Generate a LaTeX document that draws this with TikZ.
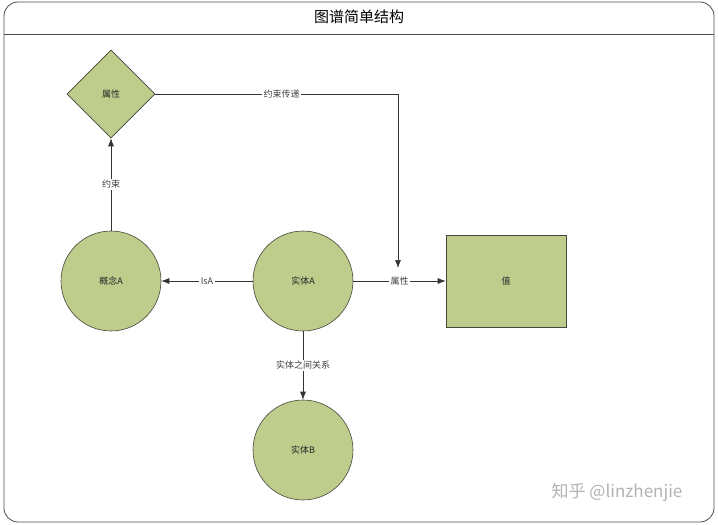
\documentclass[tikz,border=0pt]{standalone}
\usepackage{fontspec}
\setmainfont{Liberation Sans}
\newfontfamily\cjk{Noto Sans CJK SC}
\usetikzlibrary{shapes.geometric,arrows.meta}
\definecolor{nodefill}{RGB}{190,204,140}
\definecolor{nodeline}{RGB}{70,70,60}
\tikzset{
  shapebase/.style={draw=nodeline, line width=0.6pt, fill=nodefill, font=\cjk\fontsize{9}{11}\selectfont, text=black!85},
  circnode/.style={shapebase, circle, minimum size=100pt, inner sep=0pt},
  diamnode/.style={shapebase, diamond, aspect=1, minimum size=88pt, inner sep=0pt},
  rectnode/.style={shapebase, rectangle, minimum width=120pt, minimum height=92pt, inner sep=0pt},
  arr/.style={draw=black!80, line width=0.7pt, -{Latex[length=8pt,width=6pt]}},
  lbl/.style={fill=white, inner sep=1.5pt, font=\cjk\fontsize{9}{11}\selectfont, text=black!75}
}
\begin{document}
\begin{tikzpicture}[x=1pt,y=-1pt]
\useasboundingbox (0,0) rectangle (718,525);
\draw[rounded corners=14pt, draw=black!70, line width=0.8pt] (4,2) rectangle (714,522);
\draw[draw=black!70, line width=0.8pt] (4,34) -- (714,34);
\node (title) at (359,17) {\cjk\fontsize{15}{17}\selectfont 图谱简单结构};

\node[diamnode] (attr) at (111,94) {属性};
\node[circnode] (conceptA) at (111,281) {概念A};
\node[circnode] (entA) at (303,281) {实体A};
\node[circnode] (entB) at (303,450) {实体B};
\node[rectnode] (val) at (506,281) {值};

\coordinate (bend) at (398,94);
\coordinate (drop) at (398,268);

\draw[arr] (conceptA) -- node[lbl]{约束} (attr);
\draw[arr] (entA) -- node[lbl]{IsA} (conceptA);
\draw[arr] (entA) -- node[lbl]{属性} (val);
\draw[arr] (entA) -- node[lbl]{实体之间关系} (entB);
\draw[arr] (attr.east) -- node[lbl, pos=0.52]{约束传递} (bend) -- (drop);

\node[text=black!30] (wm) at (617,492) {\cjk\fontsize{17}{19}\selectfont 知乎 @linzhenjie};
\end{tikzpicture}
\end{document}
